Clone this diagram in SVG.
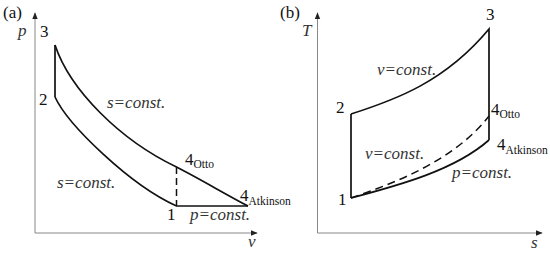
<svg xmlns="http://www.w3.org/2000/svg" width="550" height="253" viewBox="0 0 550 253">
<defs>
<marker id="arr" viewBox="0 0 10 10" refX="9" refY="5" markerWidth="7" markerHeight="7" markerUnits="userSpaceOnUse" orient="auto">
<path d="M0,1 L10,5 L0,9 Z" fill="#222"/>
</marker>
</defs>
<rect width="550" height="253" fill="#fff"/>
<g id="panel-a">
<g id="axes-a">
<g stroke="#888" stroke-width="1" fill="none">
<line x1="35" y1="233" x2="35" y2="13" marker-end="url(#arr)"/>
<line x1="35" y1="233" x2="257" y2="233" marker-end="url(#arr)"/>
</g>
<text x="3" y="18" font-family="Liberation Serif" font-size="17" fill="#111">(a)</text>
<text x="18" y="36" font-family="Liberation Serif" font-size="17" font-style="italic" fill="#333">p</text>
<text x="248" y="247" font-family="Liberation Serif" font-size="17" font-style="italic" fill="#333">v</text>
</g>
<g id="connectors-a" stroke="#111" stroke-width="1.7" fill="none">
<path d="M55,45 L55,97"/>
<path d="M55,45 C70,90 120,140 176.5,167 C200,179 225,194 248,206"/>
<path d="M55,97 C68,125 130,185 176.5,206 L248,206"/>
<path d="M176.5,167 L176.5,206" stroke-width="1.5" stroke-dasharray="7,4"/>
</g>
<g id="a-node-3"><text x="40" y="37" font-family="Liberation Serif" font-size="17" fill="#111">3</text></g>
<g id="a-node-2"><text x="39" y="105" font-family="Liberation Serif" font-size="17" fill="#111">2</text></g>
<g id="a-node-1"><text x="167" y="220" font-family="Liberation Serif" font-size="17" fill="#111">1</text></g>
<g id="a-node-4otto"><text x="185" y="165" font-family="Liberation Serif" font-size="17" fill="#111">4<tspan font-size="11.5" dy="3">Otto</tspan></text></g>
<g id="a-node-4atk"><text x="240" y="201" font-family="Liberation Serif" font-size="17" fill="#111">4<tspan font-size="11.5" dy="3.5">Atkinson</tspan></text></g>
<text x="107" y="108" font-family="Liberation Serif" font-size="17" font-style="italic" fill="#333">s=const.</text>
<text x="57" y="188" font-family="Liberation Serif" font-size="17" font-style="italic" fill="#333">s=const.</text>
<text x="190" y="220" font-family="Liberation Serif" font-size="17" font-style="italic" fill="#333">p=const.</text>
</g>
<g id="panel-b">
<g id="axes-b">
<g stroke="#888" stroke-width="1" fill="none">
<line x1="317.5" y1="233" x2="317.5" y2="13" marker-end="url(#arr)"/>
<line x1="317.5" y1="233" x2="542" y2="233" marker-end="url(#arr)"/>
</g>
<text x="280" y="18" font-family="Liberation Serif" font-size="17" fill="#111">(b)</text>
<text x="302" y="36" font-family="Liberation Serif" font-size="17" font-style="italic" fill="#333">T</text>
<text x="531" y="248" font-family="Liberation Serif" font-size="17" font-style="italic" fill="#333">s</text>
</g>
<g id="connectors-b" stroke="#111" stroke-width="1.7" fill="none">
<path d="M351,114 L351,198"/>
<path d="M351,114 C395,100 445,82 489,29 L489,140"/>
<path d="M351,198 C400,185 455,170 489,140"/>
<path d="M351,198 C395,183 455,160 489,116" stroke-width="1.5" stroke-dasharray="8,5"/>
</g>
<g id="b-node-3"><text x="486" y="20" font-family="Liberation Serif" font-size="17" fill="#111">3</text></g>
<g id="b-node-2"><text x="336" y="113" font-family="Liberation Serif" font-size="17" fill="#111">2</text></g>
<g id="b-node-1"><text x="338" y="205" font-family="Liberation Serif" font-size="17" fill="#111">1</text></g>
<g id="b-node-4otto"><text x="491" y="115" font-family="Liberation Serif" font-size="17" fill="#111">4<tspan font-size="11.5" dy="3">Otto</tspan></text></g>
<g id="b-node-4atk"><text x="497" y="150" font-family="Liberation Serif" font-size="17" fill="#111">4<tspan font-size="11.5" dy="4">Atkinson</tspan></text></g>
<text x="377" y="75" font-family="Liberation Serif" font-size="17" font-style="italic" fill="#333">v=const.</text>
<text x="365" y="159" font-family="Liberation Serif" font-size="17" font-style="italic" fill="#333">v=const.</text>
<text x="452" y="178" font-family="Liberation Serif" font-size="17" font-style="italic" fill="#333">p=const.</text>
</g>
</svg>
